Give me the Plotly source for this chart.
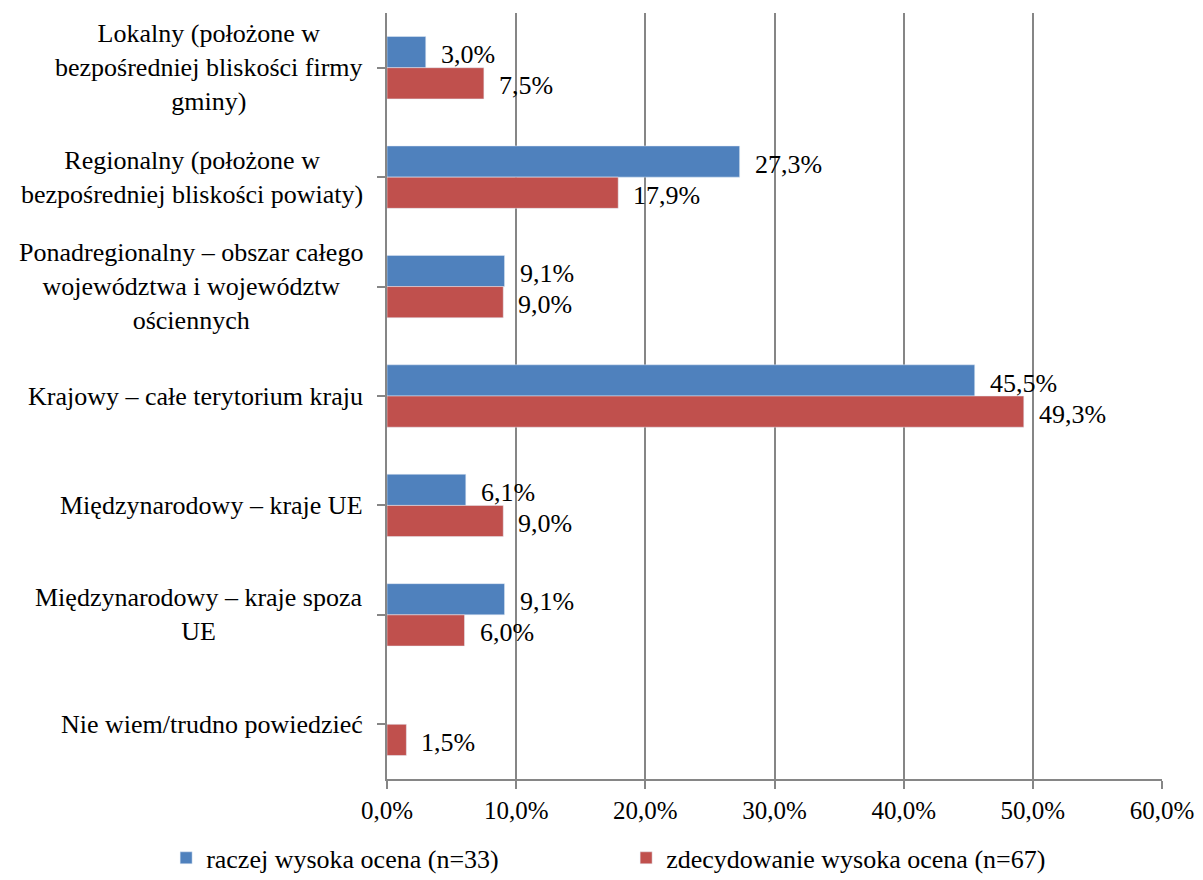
import plotly.graph_objects as go

# Categories, top to bottom
categories = [
    "Lokalny (położone w<br>bezpośredniej bliskości firmy<br>gminy)",
    "Regionalny (położone w<br>bezpośredniej bliskości powiaty)",
    "Ponadregionalny – obszar całego<br>województwa i województw<br>ościennych",
    "Krajowy – całe terytorium kraju",
    "Międzynarodowy – kraje UE",
    "Międzynarodowy – kraje spoza<br>UE",
    "Nie wiem/trudno powiedzieć",
]
raczej = [3.0, 27.3, 9.1, 45.5, 6.1, 9.1, None]
zdecydowanie = [7.5, 17.9, 9.0, 49.3, 9.0, 6.0, 1.5]
series_names = ["raczej wysoka ocena (n=33)", "zdecydowanie wysoka ocena (n=67)"]
x_ticks = [0, 10, 20, 30, 40, 50, 60]
x_tick_labels = ["0,0%", "10,0%", "20,0%", "30,0%", "40,0%", "50,0%", "60,0%"]

FONT = "Times New Roman, Liberation Serif, serif"
BLUE = "#4F81BD"
RED = "#C0504D"
GRID = "#868686"
FS_TEXT = 26
FS_NUM = 25

cat_ids = list(range(len(categories)))

fig = go.Figure()
fig.add_trace(go.Bar(y=cat_ids, x=raczej, orientation="h", name=series_names[0],
                     marker=dict(color=BLUE)))
fig.add_trace(go.Bar(y=cat_ids, x=zdecydowanie, orientation="h", name=series_names[1],
                     marker=dict(color=RED)))

def fmt(v):
    return f"{v:.1f}".replace(".", ",") + "%"

annotations = []
# value labels next to the bar ends
for vals, shift in ((raczej, 13), (zdecydowanie, -18)):
    for i, v in enumerate(vals):
        if v is None:
            continue
        annotations.append(dict(x=v, y=i, xref="x", yref="y", text=fmt(v),
                                showarrow=False, xanchor="left", xshift=13,
                                yshift=shift, font=dict(family=FONT, size=FS_TEXT, color="black")))
# category labels, centred lines, right edge next to the axis
for i, c in enumerate(categories):
    annotations.append(dict(x=0, y=i, xref="paper", yref="y", text=c, showarrow=False,
                            xanchor="right", align="center", xshift=-22,
                            font=dict(family=FONT, size=FS_TEXT, color="black")))

fig.update_layout(
    width=1203, height=880,
    margin=dict(l=387, r=41, t=13, b=101, autoexpand=False),
    paper_bgcolor="white", plot_bgcolor="white",
    barmode="group", bargap=0.43, bargroupgap=0,
    font=dict(family=FONT, size=FS_TEXT, color="black"),
    showlegend=True,
    legend=dict(orientation="h", xref="paper", x=-0.285, xanchor="left",
                yref="paper", y=-0.103, yanchor="middle",
                entrywidth=415, entrywidthmode="pixels",
                bgcolor="rgba(0,0,0,0)",
                font=dict(family=FONT, size=FS_TEXT, color="black"),
                traceorder="normal"),
    annotations=annotations,
)
fig.update_xaxes(range=[0, 60], tickvals=x_ticks, ticktext=x_tick_labels,
                 showgrid=True, gridcolor=GRID, gridwidth=2,
                 showline=True, linecolor=GRID, linewidth=2,
                 ticks="outside", ticklen=8, tickcolor=GRID, tickwidth=2,
                 zeroline=False, tickfont=dict(family=FONT, size=FS_NUM, color="black"))
fig.update_yaxes(tickvals=cat_ids, ticktext=[""] * len(cat_ids), range=[6.5, -0.5],
                 showgrid=False, showline=True, linecolor=GRID, linewidth=2,
                 ticks="outside", ticklen=8, tickcolor=GRID, tickwidth=2,
                 tickson="boundaries", zeroline=False)

fig.write_html("out.html")
